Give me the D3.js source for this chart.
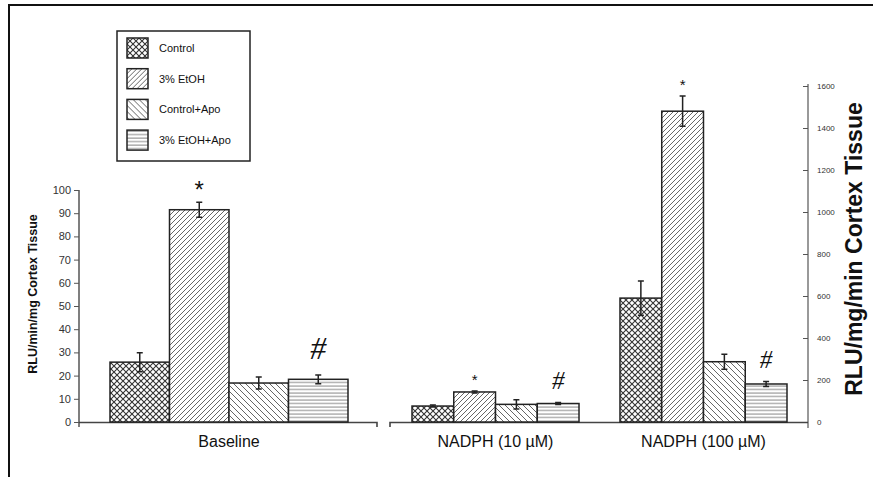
<!DOCTYPE html>
<html>
<head>
<meta charset="utf-8">
<script src="https://cdn.jsdelivr.net/npm/d3@7"></script>
<style>
  body { margin: 0; background: #fff; }
  svg { display: block; font-family: "Liberation Sans", Arial, Helvetica, sans-serif; }
</style>
</head>
<body>
<svg id="chart" width="873" height="477"></svg>
<script>
'use strict'

// series (legend order)
var series = ["Control", "3% EtOH", "Control+Apo", "3% EtOH+Apo"];
var patterns = ["cross", "fwd", "back", "horiz"];

// baseline group, left axis (RLU/min/mg)
var baseMean = [25.8, 91.5, 16.8, 18.4];
var baseErr = [4.1, 3.2, 2.6, 1.9];

// NADPH groups, right axis (RLU/mg/min)
var nadphGroups = ["NADPH (10 µM)", "NADPH (100 µM)"];
var nadph10Mean = [76, 143, 84, 88];
var nadph10Err = [5, 5, 22, 5];
var nadph100Mean = [590, 1480, 287, 181];
var nadph100Err = [82, 72, 36, 12];

var leftTicks = [0, 10, 20, 30, 40, 50, 60, 70, 80, 90, 100];
var rightTicks = [0, 200, 400, 600, 800, 1000, 1200, 1400, 1600];

// significance marks: [group index (0 = baseline), series index, symbol]
var marks = [[0, 1, "*"], [0, 3, "#"], [1, 1, "*"], [1, 3, "#"], [2, 1, "*"], [2, 3, "#"]];

var svg = d3.select("#chart");
var ink = "#222";

// ---- patterns ----
var defs = svg.append("defs");
function pat(id, size, draw) {
  var p = defs.append("pattern").attr("id", id)
    .attr("patternUnits", "userSpaceOnUse")
    .attr("width", size).attr("height", size);
  p.append("rect").attr("width", size).attr("height", size).attr("fill", "#fff");
  draw(p, size);
}
pat("cross", 6, function(p, s) {
  p.append("path").attr("d", "M0,0L" + s + "," + s + "M" + s + ",0L0," + s)
    .attr("stroke", "#333").attr("stroke-width", 1.1).attr("fill", "none");
});
pat("fwd", 5, function(p, s) {
  p.append("path").attr("d", "M0," + s + "L" + s + ",0M-1,1L1,-1M" + (s - 1) + "," + (s + 1) + "L" + (s + 1) + "," + (s - 1))
    .attr("stroke", "#555").attr("stroke-width", 0.9).attr("fill", "none");
});
pat("back", 6, function(p, s) {
  p.append("path").attr("d", "M0,0L" + s + "," + s + "M-1," + (s - 1) + "L1," + (s + 1) + "M" + (s - 1) + ",-1L" + (s + 1) + ",1")
    .attr("stroke", "#555").attr("stroke-width", 0.9).attr("fill", "none");
});
pat("horiz", 3.5, function(p, s) {
  p.append("line").attr("x1", 0).attr("x2", s).attr("y1", 1).attr("y2", 1)
    .attr("stroke", "#888").attr("stroke-width", 1);
});

// ---- frame (top and left rules of the figure panel) ----
svg.append("line").attr("x1", 8).attr("x2", 873).attr("y1", 5).attr("y2", 5)
  .attr("stroke", "#111").attr("stroke-width", 2);
svg.append("line").attr("x1", 9).attr("x2", 9).attr("y1", 4).attr("y2", 477)
  .attr("stroke", "#111").attr("stroke-width", 2);

// ---- scales ----
var yLeft = d3.scaleLinear().domain([0, 100]).range([422, 190]);
var yRight = d3.scaleLinear().domain([0, 1600]).range([422, 86]);

var xBase = d3.scaleBand().domain(series).range([110, 348]).padding(0);
var xGroup = d3.scaleBand().domain(nadphGroups).range([412, 787]).paddingInner(0.197).paddingOuter(0);
var xInner = d3.scaleBand().domain(series).range([0, xGroup.bandwidth()]).padding(0);

// ---- axes ----
svg.append("g").attr("transform", "translate(79,0)")
  .call(d3.axisLeft(yLeft).tickValues(leftTicks).tickSize(5).tickPadding(3).tickSizeOuter(0))
  .call(function(g) {
    g.attr("font-family", null);
    g.select(".domain").attr("stroke", "#555").attr("stroke-width", 1.5).attr("d", "M0,190V427");
    g.selectAll(".tick line").attr("stroke", "#555");
    g.selectAll("text").attr("font-size", 11).attr("fill", "#333");
  });

svg.append("g").attr("transform", "translate(808,0)")
  .call(d3.axisRight(yRight).tickValues(rightTicks).tickFormat(d3.format("d"))
    .tickSize(-5).tickPadding(9).tickSizeOuter(0))
  .call(function(g) {
    g.attr("font-family", null);
    g.select(".domain").attr("stroke", "#555").attr("stroke-width", 1.2).attr("d", "M0,84V428");
    g.selectAll(".tick line").attr("stroke", "#555");
    g.selectAll("text").attr("font-size", 8).attr("fill", "#333");
  });

// x baselines with broken gap
svg.append("path").attr("d", "M79,422.5H377V427M390,427V422.5H808")
  .attr("stroke", "#444").attr("stroke-width", 1.6).attr("fill", "none");

// ---- bars ----
function drawGroup(xs, offset, means, errs, y) {
  var g = svg.append("g").attr("transform", "translate(" + offset + ",0)");
  g.selectAll("rect").data(means).enter().append("rect")
    .attr("x", function(d, i) { return xs(series[i]); })
    .attr("width", xs.bandwidth())
    .attr("y", function(d) { return y(d); })
    .attr("height", function(d) { return y(0) - y(d); })
    .attr("fill", function(d, i) { return "url(#" + patterns[i] + ")"; })
    .attr("stroke", ink).attr("stroke-width", 1.5);
  g.selectAll("path.err").data(means).enter().append("path")
    .attr("class", "err")
    .attr("d", function(d, i) {
      var cx = xs(series[i]) + xs.bandwidth() / 2,
          t = y(d + errs[i]), b = y(d - errs[i]), w = 3;
      return "M" + (cx - w) + "," + t + "H" + (cx + w) + "M" + cx + "," + t + "V" + b + "M" + (cx - w) + "," + b + "H" + (cx + w);
    })
    .attr("stroke", ink).attr("stroke-width", 1.5).attr("fill", "none");
}
drawGroup(xBase, 0, baseMean, baseErr, yLeft);
drawGroup(xInner, xGroup(nadphGroups[0]), nadph10Mean, nadph10Err, yRight);
drawGroup(xInner, xGroup(nadphGroups[1]), nadph100Mean, nadph100Err, yRight);

// ---- significance marks ----
var groupInfo = [
  { xs: xBase, off: 0, m: baseMean, e: baseErr, y: yLeft, star: 24, hash: 32, gap: 16 },
  { xs: xInner, off: xGroup(nadphGroups[0]), m: nadph10Mean, e: nadph10Err, y: yRight, star: 15, hash: 25, gap: 13 },
  { xs: xInner, off: xGroup(nadphGroups[1]), m: nadph100Mean, e: nadph100Err, y: yRight, star: 15, hash: 25, gap: 13 }
];
marks.forEach(function(mk) {
  var gi = groupInfo[mk[0]], i = mk[1];
  var cx = gi.off + gi.xs(series[i]) + gi.xs.bandwidth() / 2;
  var top = gi.y(gi.m[i] + gi.e[i]);
  if (mk[2] === "*") {
    svg.append("text").attr("x", cx).attr("y", top - 10 + gi.star * 0.45)
      .attr("text-anchor", "middle").attr("font-size", gi.star).attr("fill", "#111")
      .attr("dy", "-0.2em").text("*");
  } else {
    svg.append("text").attr("x", cx).attr("y", top - gi.gap)
      .attr("text-anchor", "middle").attr("font-size", gi.hash)
      .attr("font-family", "'Liberation Serif', 'Times New Roman', serif")
      .attr("font-style", "italic").attr("fill", "#111").text("#");
  }
});

// ---- category labels ----
svg.append("text").attr("x", 229).attr("y", 447).attr("text-anchor", "middle")
  .attr("font-size", 16).attr("fill", "#111").text("Baseline");
svg.selectAll("text.grp").data(nadphGroups).enter().append("text")
  .attr("class", "grp")
  .attr("x", function(d) { return xGroup(d) + xGroup.bandwidth() / 2; })
  .attr("y", 447).attr("text-anchor", "middle")
  .attr("font-size", 16).attr("fill", "#111").text(function(d) { return d; });

// ---- axis titles ----
svg.append("text").attr("transform", "translate(37,294) rotate(-90)")
  .attr("text-anchor", "middle").attr("font-size", 12.5).attr("font-weight", "bold")
  .attr("fill", "#111").text("RLU/min/mg Cortex Tissue");
svg.append("text").attr("transform", "translate(862,249) rotate(-90)")
  .attr("text-anchor", "middle").attr("font-size", 23).attr("font-weight", "bold")
  .attr("fill", "#111").text("RLU/mg/min Cortex Tissue");

// ---- legend ----
var legend = svg.append("g");
legend.append("rect").attr("x", 117).attr("y", 31).attr("width", 133).attr("height", 130)
  .attr("fill", "#fff").attr("stroke", ink).attr("stroke-width", 1.5);
var li = legend.selectAll("g.item").data(series).enter().append("g")
  .attr("class", "item")
  .attr("transform", function(d, i) { return "translate(127," + (38 + i * 30.7) + ")"; });
li.append("rect").attr("width", 21).attr("height", 20)
  .attr("fill", function(d, i) { return "url(#" + patterns[i] + ")"; })
  .attr("stroke", ink).attr("stroke-width", 1.5);
li.append("text").attr("x", 32).attr("y", 14).attr("font-size", 11).attr("fill", "#111")
  .text(function(d) { return d; });
</script>
</body>
</html>
